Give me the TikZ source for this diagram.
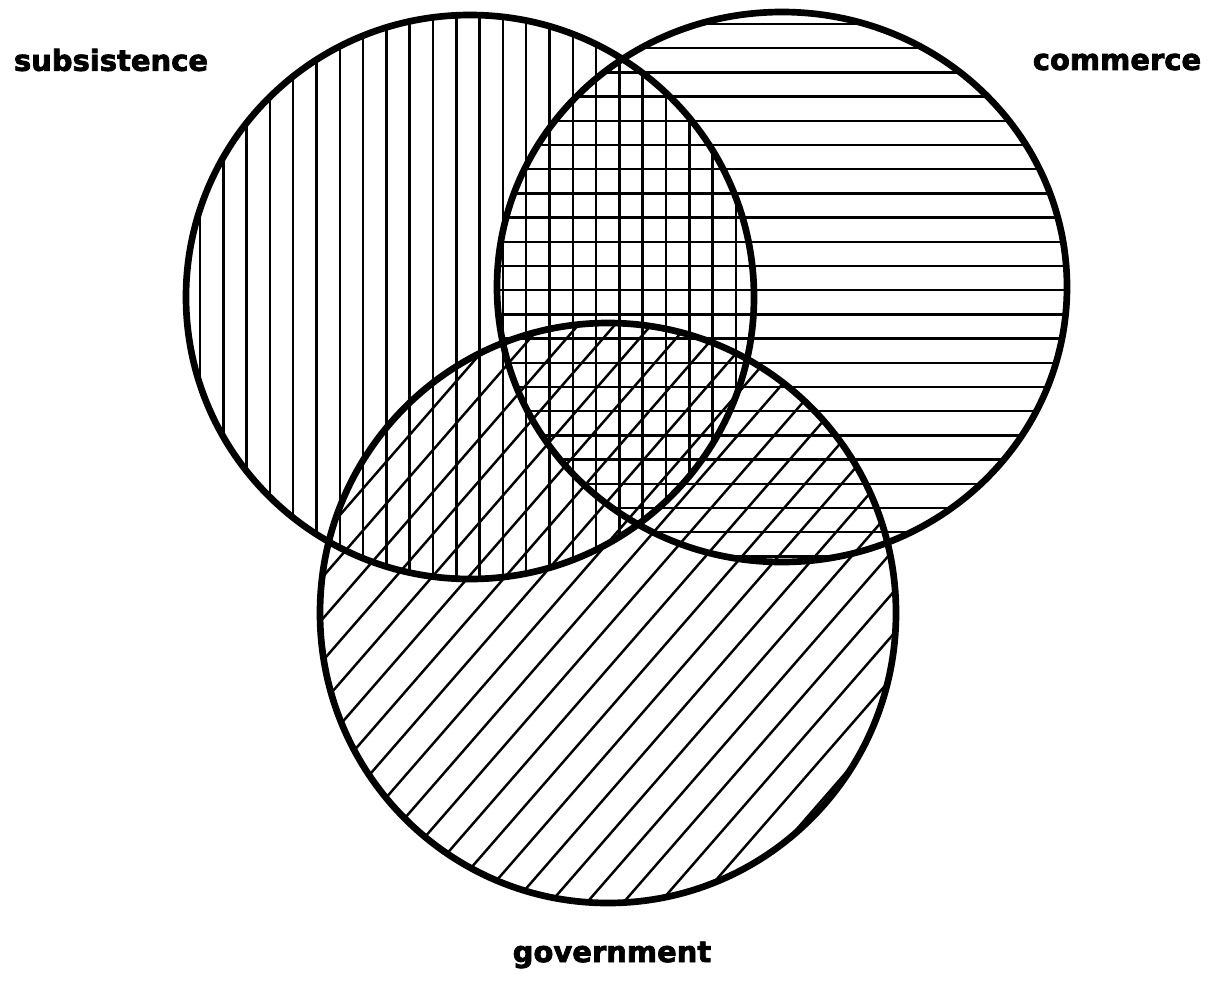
\documentclass[tikz,border=0pt]{standalone}
\usepackage{fontspec}
\newfontfamily\vennfont{DejaVu Sans}[FakeBold=2.5]
\usepackage{tikz}
\usetikzlibrary{positioning}

\begin{document}
\begin{tikzpicture}[
    x=0.02cm, y=-0.02cm,
    ring/.style={draw=black, line width=3.8pt},
    hatch/.style={draw=black, line width=1.4pt},
    setlabel/.style={font=\vennfont\bfseries\fontsize{16.5}{18}\selectfont, inner sep=0pt}
]
\useasboundingbox (0,0) rectangle (1221,991);

% Centres of the three sets
\coordinate (subs) at (470,297);
\coordinate (comm) at (782,287);
\coordinate (gov)  at (608,613);

% Vertical hatching: subsistence
\begin{scope}
  \clip (subs) ellipse [x radius=284, y radius=282];
  \foreach \k in {0,...,24}
    \draw[hatch] ({200+23.3*\k},0) -- ({200+23.3*\k},620);
\end{scope}

% Horizontal hatching: commerce
\begin{scope}
  \clip (comm) ellipse [x radius=285, y radius=275];
  \foreach \k in {0,...,23}
    \draw[hatch] (480,{24+24.2*\k}) -- (1090,{24+24.2*\k});
\end{scope}

% Diagonal hatching: government (about 49 degrees)
\begin{scope}
  \clip (gov) ellipse [x radius=288, y radius=290];
  \foreach \k in {-14,...,12}
    \draw[hatch] ({483+36.5*\k+409},300) -- ({483+36.5*\k-139},930);
\end{scope}

% Outlines
\draw[ring] (subs) ellipse [x radius=284, y radius=282];
\draw[ring] (comm) ellipse [x radius=285, y radius=275];
\draw[ring] (gov)  ellipse [x radius=288, y radius=290];

% Labels
\node[setlabel] (sublabel)  at (111,60)  {subsistence};
\node[setlabel] (commlabel) at (1117,62) {commerce};
\node[setlabel] (govlabel)  at (612,955) {government};

\end{tikzpicture}
\end{document}
